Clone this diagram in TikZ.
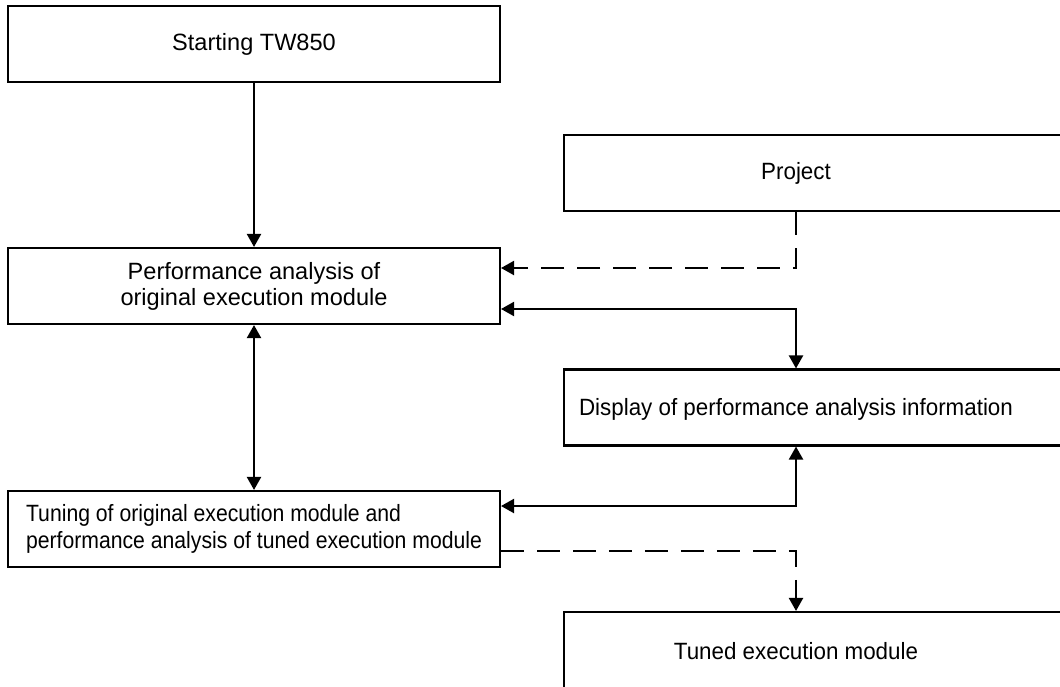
\documentclass[tikz,border=0pt]{standalone}
\usepackage{fontspec}
\setmainfont{Liberation Sans}
\newfontfamily\sidefont[FakeStretch=0.95]{Liberation Sans}
\newfontfamily\tunefont[FakeStretch=0.9]{Liberation Sans}
\usetikzlibrary{positioning}
\usetikzlibrary{arrows.meta}
\tikzset {
  x=0.02cm, y=-0.02cm,
  % boxes in the left column
  main/.style = {draw, rectangle, line width=1.2pt, minimum width=9.84cm,
    minimum height=1.52cm, align=center, font=\fontsize{13.4}{14.8}\selectfont},
  % boxes that run off the right edge
  side/.style = {main, minimum width=11cm, anchor=west},
  txt/.style = {inner sep=0pt, font=\sidefont\fontsize{13.4}{14.8}\selectfont},
  % connectors
  flow/.style = {line width=1.2pt, -{Triangle[length=0.26cm, width=0.28cm]}},
  both/.style = {flow, {Triangle[length=0.26cm, width=0.28cm]}-{Triangle[length=0.26cm, width=0.28cm]}},
  dashflow/.style = {flow, dash pattern=on 0.46cm off 0.26cm},
}
\begin{document}
\begin{tikzpicture}
      \useasboundingbox (0,0) rectangle (1060,686);
      \clip (0,0) rectangle (1060,686);

      \node[main] (start) at (254, 44) {Starting TW850};
      \node[main] (perf) at (254, 286) {Performance analysis of\\original execution module};
      \node[main, align=left, font=\tunefont\fontsize{13.4}{15.2}\selectfont] (tune) at (254, 529)
        {Tuning of original execution module and\\performance analysis of tuned execution module};

      \node[side] (proj) at (563, 173) {};
      \node[side] (disp) at (563, 407.5) {};
      \node[side] (tuned) at (563, 650) {};
      \node[txt] (projtext) at (796, 173) {Project};
      \node[txt] (disptext) at (796, 409) {Display of performance analysis information};
      \node[txt] (tunedtext) at (796, 651) {Tuned execution module};

      \draw [flow] (start) -- (perf);
      \draw [dashflow] (proj.south -| projtext) |- ([yshift=0.36cm]perf.east);
      \draw [both] ([yshift=-0.46cm]perf.east) -| (disp.north -| disptext);
      \draw [both] (perf) -- (tune);
      \draw [both] (disp.south -| disptext) |- ([yshift=0.46cm]tune.east);
      \draw [dashflow] ([yshift=-0.44cm]tune.east) -| (tuned.north -| tunedtext);
    \end{tikzpicture}
\end{document}
